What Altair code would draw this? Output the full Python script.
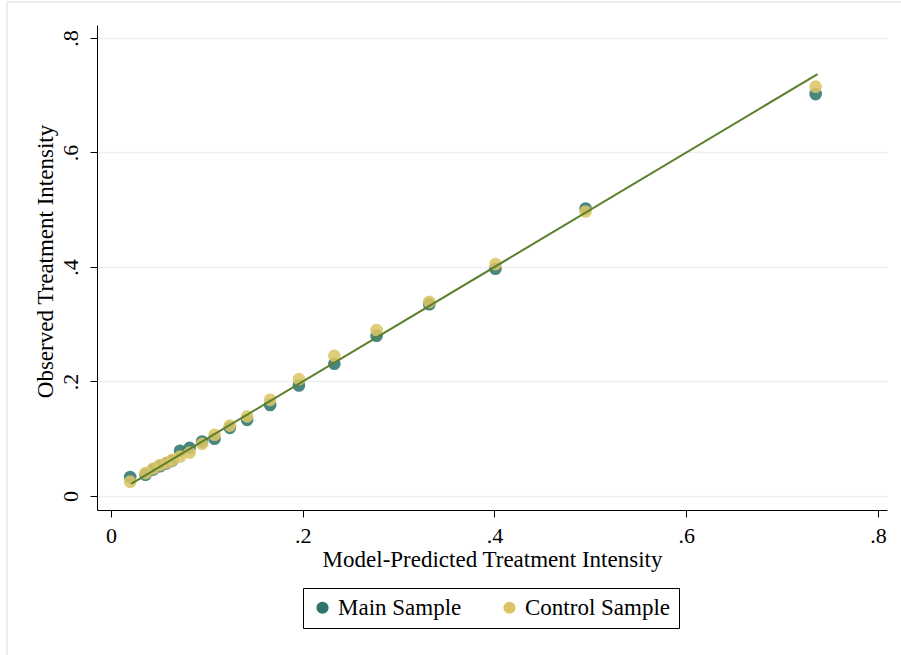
import altair as alt
import pandas as pd

# Bin positions (model-predicted treatment intensity)
pred_x = [0.020, 0.036, 0.044, 0.051, 0.058, 0.064, 0.072, 0.082, 0.095, 0.108,
          0.124, 0.142, 0.166, 0.196, 0.233, 0.277, 0.332, 0.401, 0.495, 0.735]
# Observed treatment intensity
main_y = [0.033, 0.037, 0.046, 0.052, 0.057, 0.062, 0.079, 0.084, 0.095, 0.100,
          0.119, 0.133, 0.159, 0.193, 0.231, 0.280, 0.335, 0.397, 0.502, 0.702]
control_y = [0.025, 0.040, 0.048, 0.054, 0.058, 0.063, 0.069, 0.076, 0.091, 0.107,
             0.123, 0.139, 0.168, 0.204, 0.245, 0.290, 0.339, 0.405, 0.497, 0.715]
series = ["Main Sample", "Control Sample"]
colors = ["#2f756d", "#dcc566"]
fit_x = [0.021, 0.737]
tick_vals = [0, 0.2, 0.4, 0.6, 0.8]

FONT = "Liberation Serif"

pts = pd.DataFrame(
    {"x": pred_x + pred_x,
     "y": main_y + control_y,
     "s": [series[0]] * len(pred_x) + [series[1]] * len(pred_x),
     "o": list(range(2 * len(pred_x)))}
)
fit = pd.DataFrame({"x": fit_x, "y": fit_x})

label_expr = "datum.value == 0 ? '0' : slice(format(datum.value, '.1f'), 1)"

xscale = alt.Scale(domain=[-0.0146, 0.8094], nice=False, zero=False)
yscale = alt.Scale(domain=[-0.0245, 0.8227], nice=False, zero=False)

xaxis = alt.Axis(values=tick_vals, labelExpr=label_expr, grid=False,
                 title="Model-Predicted Treatment Intensity",
                 titleFont=FONT, titleFontSize=23, titleFontWeight="normal",
                 titleColor="black", titleX=395, titleY=49,
                 titleAlign="center", titleBaseline="middle",
                 labelFont=FONT, labelFontSize=22,
                 labelColor="black", tickColor="black", tickSize=7,
                 domainColor="black", labelPadding=8)
yaxis = alt.Axis(values=tick_vals, labelExpr=label_expr, grid=True,
                 gridColor="#e8eef1", gridWidth=1.5,
                 title="Observed Treatment Intensity",
                 titleFont=FONT, titleFontSize=23, titleFontWeight="normal",
                 titleColor="black", titleAngle=270, titleX=-52, titleY=236,
                 titleAlign="center", titleBaseline="middle",
                 labelFont=FONT, labelFontSize=22,
                 labelColor="black", labelAngle=270, labelAlign="center",
                 labelBaseline="bottom", tickColor="black", tickSize=7,
                 domainColor="black", labelPadding=8)

frame = alt.Chart(pd.DataFrame({"a": [0]})).mark_rect(
    fill=None, stroke="#e3e9ee", strokeWidth=1.5
).encode(x=alt.value(-90), x2=alt.value(830), y=alt.value(-23), y2=alt.value(660))

points = alt.Chart(pts).mark_circle(size=160, opacity=0.88).encode(
    x=alt.X("x:Q", scale=xscale, axis=xaxis),
    y=alt.Y("y:Q", scale=yscale, axis=yaxis),
    color=alt.Color("s:N", scale=alt.Scale(domain=series, range=colors),
                    legend=alt.Legend(title=None, orient="none", legendX=206,
                                      legendY=563, direction="horizontal",
                                      strokeColor="black", padding=8,
                                      symbolType="circle", symbolSize=150,
                                      symbolOpacity=1, labelFont=FONT,
                                      labelFontSize=23, labelColor="black",
                                      columnPadding=36, symbolStrokeWidth=0)),
    order=alt.Order("o:Q"),
)

line = alt.Chart(fit).mark_line(color="#5b7f2c", strokeWidth=2).encode(
    x=alt.X("x:Q", scale=xscale), y=alt.Y("y:Q", scale=yscale)
)

chart = alt.layer(frame, points, line).properties(
    width=790, height=485,
    autosize=alt.AutoSizeParams(type="none"),
    padding={"left": 97, "top": 25, "right": 14, "bottom": 145},
    background="white",
).configure_view(stroke=None)

chart.save("out.html", embed_options={"renderer": "svg", "actions": False})
